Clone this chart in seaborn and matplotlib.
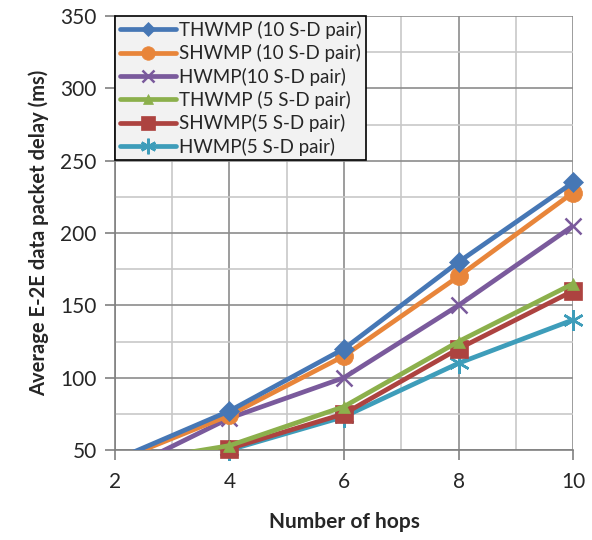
import numpy as np
import pandas as pd
import matplotlib
matplotlib.use("Agg")
import matplotlib.pyplot as plt
import seaborn as sns
from matplotlib.ticker import MultipleLocator
from matplotlib.lines import Line2D

hops = [2, 4, 6, 8, 10]
series_names = [
    "THWMP (10 S-D pair)",
    "SHWMP (10 S-D pair)",
    "HWMP(10 S-D pair)",
    "THWMP (5 S-D pair)",
    "SHWMP(5 S-D pair)",
    "HWMP(5 S-D pair)",
]
thwmp_10 = [43, 77, 120, 180, 235]
shwmp_10 = [42, 74, 115, 170, 228]
hwmp_10 = [33, 72, 100, 150, 205]
thwmp_5 = [40, 53, 80, 125, 165]
shwmp_5 = [38, 51, 75, 120, 160]
hwmp_5 = [36, 50, 73, 110, 140]
all_values = [thwmp_10, shwmp_10, hwmp_10, thwmp_5, shwmp_5, hwmp_5]

colors = ["#4677b5", "#e8853a", "#7a5a9c", "#8cb04c", "#ad4340", "#3e9dba"]
markers = ["D", "o", "x", "^", "s", (6, 2, 0)]
msizes = [10, 13, 12, 9, 13, 15]

rows = []
for name, vals in zip(series_names, all_values):
    for h, v in zip(hops, vals):
        rows.append({"Hops": h, "Delay": v, "Series": name})
df = pd.DataFrame(rows)

sns.set_style("white")
plt.rcParams["font.family"] = ["Lato", "DejaVu Sans"]

fig = plt.figure(figsize=(5.92, 5.40), dpi=100)
ax = fig.add_axes([0.194, 0.1667, 0.774, 0.8033])

handles = []
for i, name in enumerate(series_names):
    sub = df[df["Series"] == name]
    z = 3 + (6 - i) * 0.1
    mew = 1.8 if markers[i] in ("x", (6, 2, 0)) else 0.5
    # line, clipped to the axes
    sns.lineplot(data=sub, x="Hops", y="Delay", ax=ax, color=colors[i],
                 linewidth=3.4, zorder=z, legend=False)
    # markers only for points inside the value range, not clipped
    inside = sub[sub["Delay"] >= 50]
    sns.lineplot(data=inside, x="Hops", y="Delay", ax=ax, color=colors[i],
                 linestyle="", marker=markers[i], markersize=msizes[i],
                 markeredgewidth=mew, markeredgecolor=colors[i],
                 clip_on=False, zorder=z + 0.05, legend=False)
    handles.append(Line2D([], [], color=colors[i], linewidth=3.4,
                          marker=markers[i], markersize=msizes[i] * 0.75,
                          markeredgewidth=mew, markeredgecolor=colors[i],
                          label=name))

ax.set_xlim(2, 10)
ax.set_ylim(50, 350)
ax.xaxis.set_major_locator(MultipleLocator(2))
ax.xaxis.set_minor_locator(MultipleLocator(1))
ax.yaxis.set_major_locator(MultipleLocator(50))
ax.yaxis.set_minor_locator(MultipleLocator(25))
ax.grid(which="major", color="#8c8c8c", linewidth=1.2)
ax.grid(which="minor", color="#c8c8c8", linewidth=1.2)
ax.set_axisbelow(True)

for s in ["top", "right"]:
    ax.spines[s].set_visible(False)
for s in ["left", "bottom"]:
    ax.spines[s].set_color("#808080")
    ax.spines[s].set_linewidth(1.2)

ax.tick_params(which="major", direction="out", length=7, width=1.2,
               color="#808080", labelsize=15, left=True, bottom=True, pad=6)
ax.tick_params(axis="x", which="major", pad=9)
ax.tick_params(which="minor", length=0)

ax.set_xlabel("Number of hops", fontsize=15, fontweight="bold", labelpad=14)
ax.set_ylabel("Average E-2E data packet delay (ms)", fontsize=14.5,
              fontweight="bold", labelpad=8)

leg = ax.legend(handles=handles, loc="upper left", bbox_to_anchor=(0.0, 1.0),
                fontsize=13.5, frameon=True, fancybox=False, handlelength=3.0,
                borderaxespad=0.0, labelspacing=0.28, handletextpad=0.15,
                borderpad=0.25)
leg.get_frame().set_facecolor("#f2f2f2")
leg.get_frame().set_edgecolor("black")
leg.get_frame().set_linewidth(1.2)
leg.get_frame().set_alpha(1)
leg.set_zorder(10)

fig.savefig("out.png", dpi=100)
